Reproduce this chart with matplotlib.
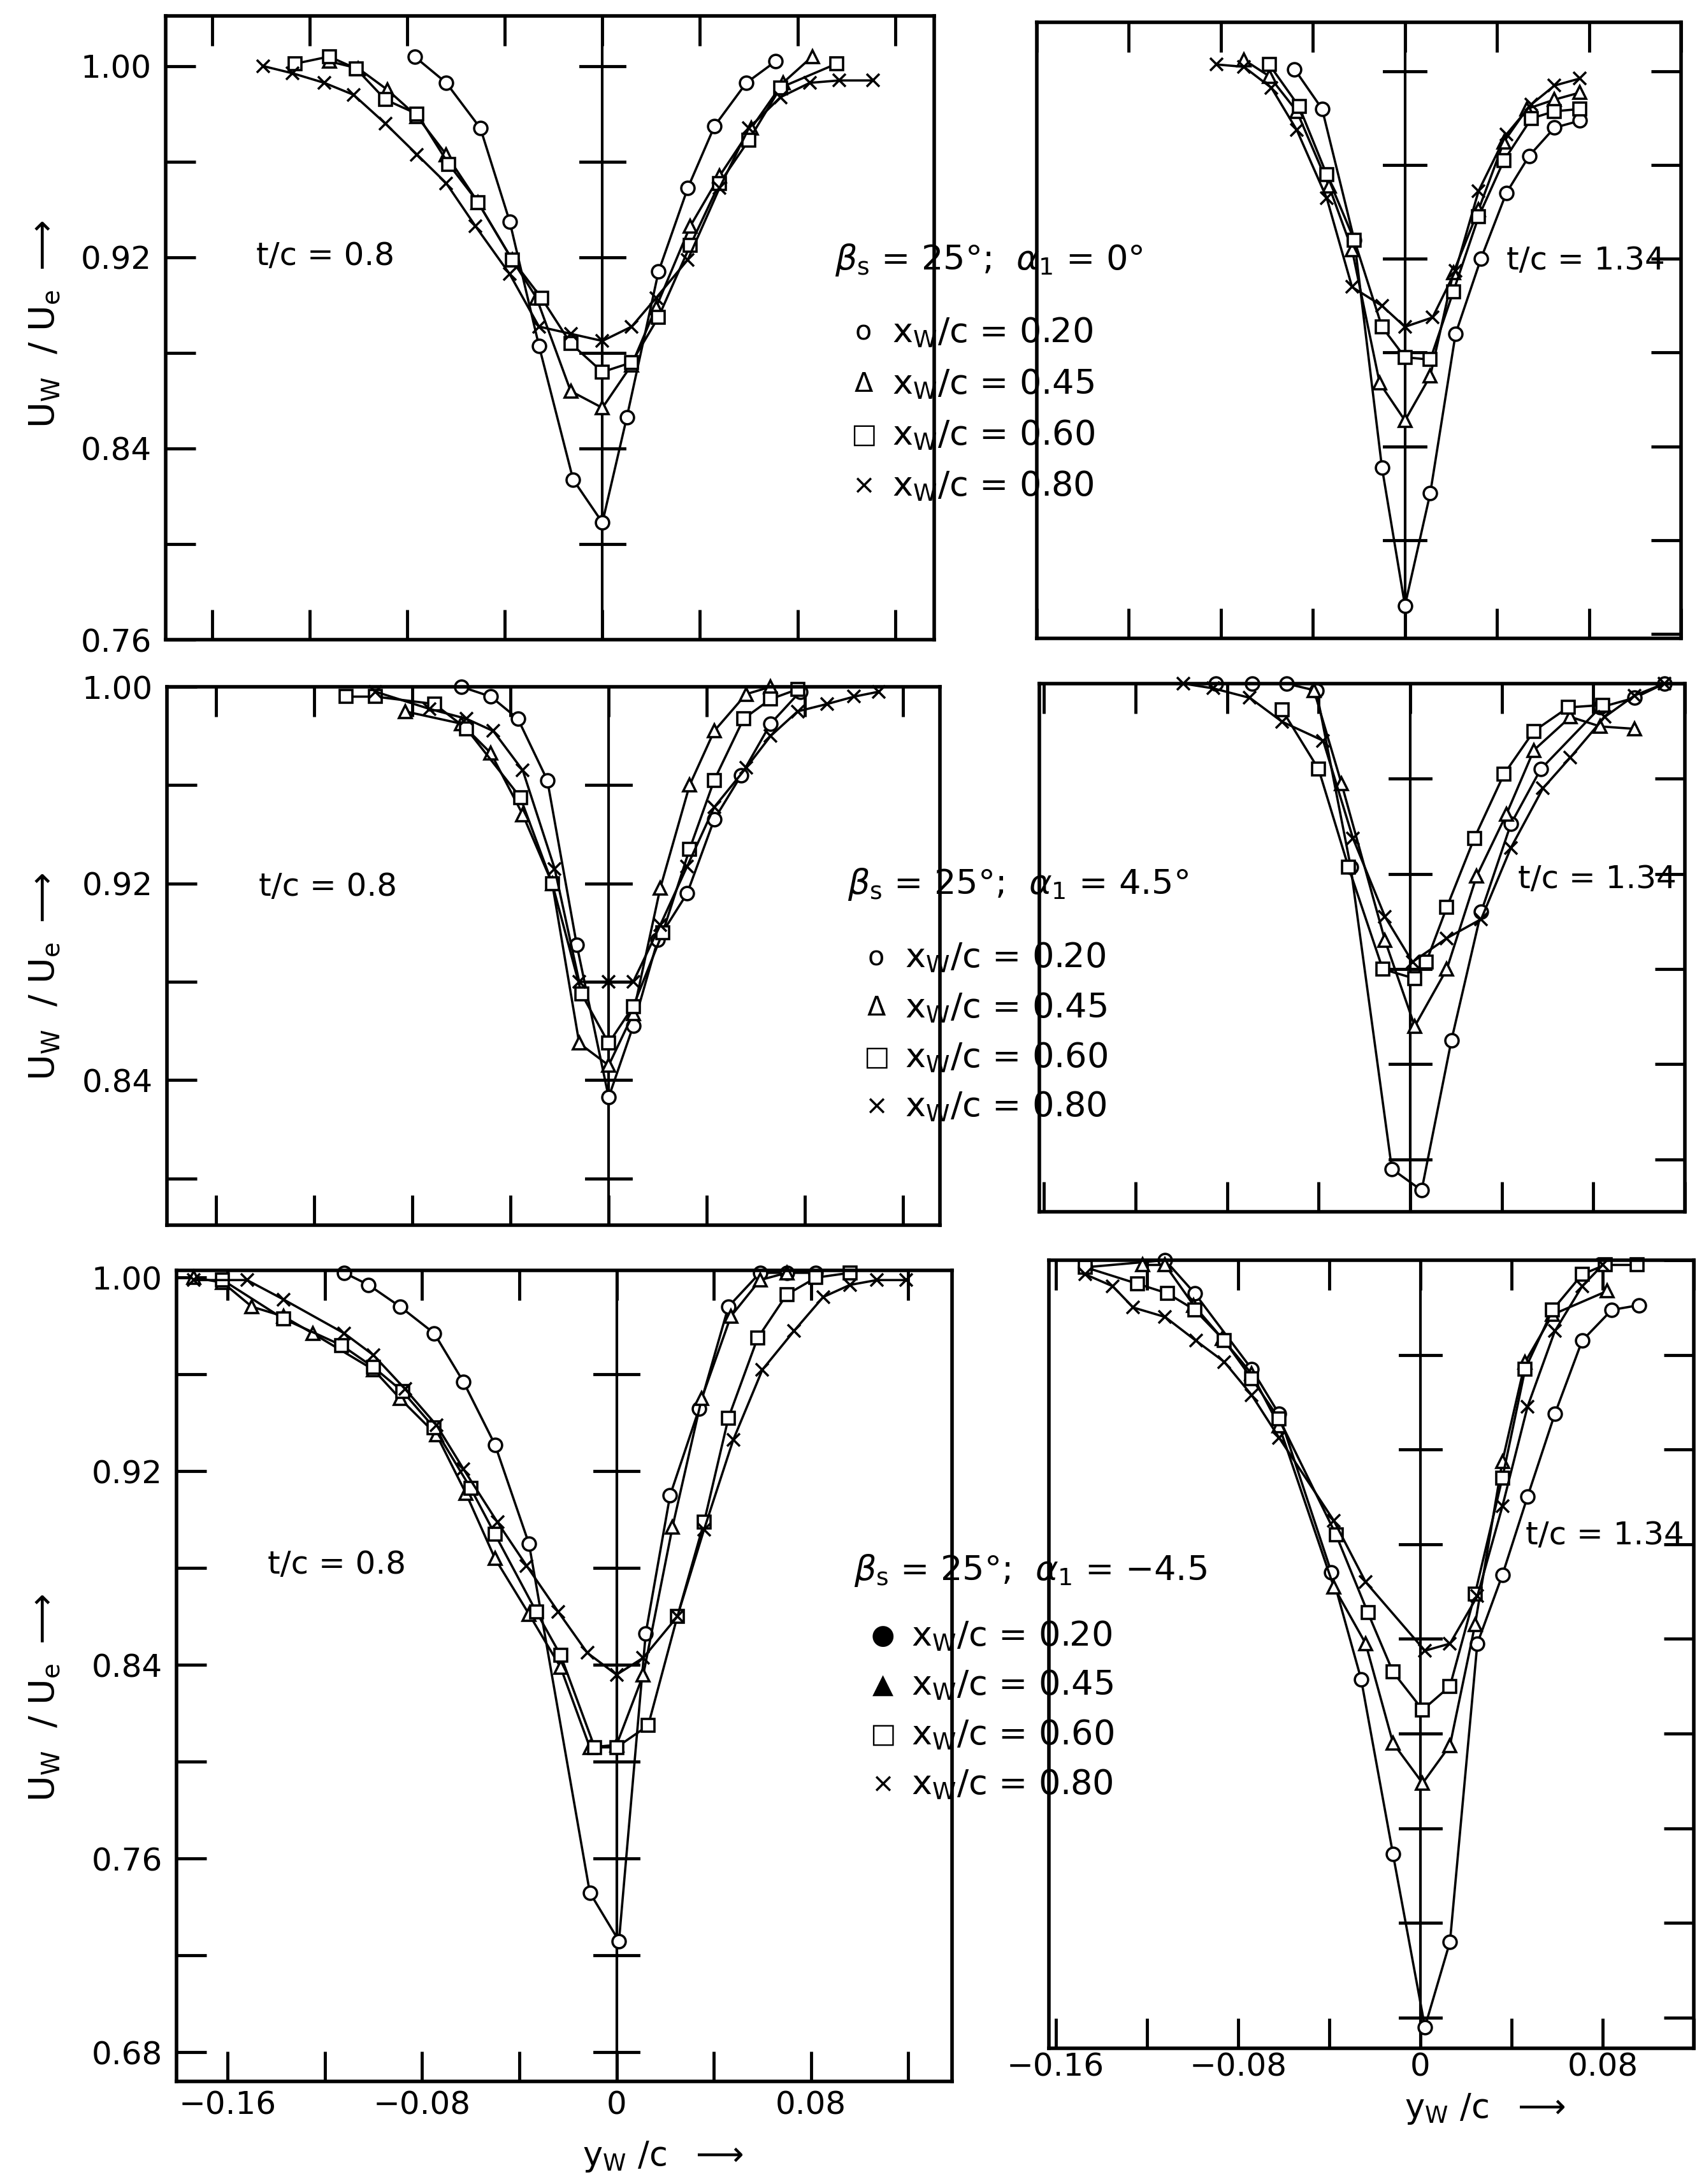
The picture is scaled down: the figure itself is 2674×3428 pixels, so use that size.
import numpy as np
import matplotlib.pyplot as plt

plt.rcParams['font.family'] = ['DejaVu Sans']
plt.rcParams['mathtext.fontset'] = 'dejavusans'

W, H = 2674, 3428

# ---- panel 1 : t/c = 0.8, alpha1 = 0 ----
p1_o_x = [-0.077, -0.064, -0.050, -0.038, -0.026, -0.012, 0.0, 0.010, 0.023, 0.035, 0.046, 0.059, 0.071]
p1_o_y = [1.004, 0.993, 0.974, 0.935, 0.883, 0.827, 0.809, 0.853, 0.914, 0.949, 0.975, 0.993, 1.002]
p1_t_x = [-0.112, -0.100, -0.088, -0.076, -0.064, -0.051, -0.037, -0.027, -0.013, 0.0, 0.012, 0.022, 0.036, 0.048, 0.061, 0.074, 0.086]
p1_t_y = [1.002, 0.999, 0.990, 0.979, 0.963, 0.943, 0.919, 0.903, 0.864, 0.857, 0.875, 0.899, 0.933, 0.954, 0.974, 0.993, 1.004]
p1_s_x = [-0.126, -0.112, -0.101, -0.089, -0.076, -0.063, -0.051, -0.037, -0.025, -0.013, 0.0, 0.012, 0.023, 0.036, 0.048, 0.060, 0.073, 0.096]
p1_s_y = [1.001, 1.004, 0.999, 0.986, 0.980, 0.959, 0.943, 0.919, 0.903, 0.884, 0.872, 0.876, 0.895, 0.925, 0.951, 0.969, 0.991, 1.001]
p1_x_x = [-0.139, -0.127, -0.114, -0.102, -0.089, -0.076, -0.064, -0.052, -0.038, -0.026, -0.013, 0.0, 0.012, 0.022, 0.035, 0.048, 0.060, 0.073, 0.085, 0.097, 0.111]
p1_x_y = [1.000, 0.997, 0.993, 0.988, 0.976, 0.963, 0.951, 0.933, 0.913, 0.891, 0.888, 0.885, 0.891, 0.903, 0.919, 0.949, 0.974, 0.987, 0.993, 0.994, 0.994]

# ---- panel 2 : t/c = 1.34, alpha1 = 0 ----
p2_o_x = [-0.048, -0.036, -0.022, -0.010, 0.0, 0.011, 0.022, 0.033, 0.044, 0.054, 0.065, 0.076]
p2_o_y = [1.001, 0.984, 0.928, 0.831, 0.772, 0.820, 0.888, 0.920, 0.948, 0.964, 0.976, 0.979]
p2_t_x = [-0.070, -0.059, -0.047, -0.033, -0.023, -0.011, 0.0, 0.011, 0.021, 0.032, 0.043, 0.053, 0.065, 0.076]
p2_t_y = [1.005, 0.998, 0.983, 0.951, 0.924, 0.867, 0.851, 0.870, 0.914, 0.941, 0.970, 0.984, 0.988, 0.991]
p2_s_x = [-0.059, -0.046, -0.034, -0.022, -0.010, 0.0, 0.011, 0.021, 0.032, 0.043, 0.055, 0.065, 0.076]
p2_s_y = [1.003, 0.985, 0.956, 0.928, 0.891, 0.878, 0.877, 0.906, 0.938, 0.962, 0.980, 0.983, 0.984]
p2_x_x = [-0.082, -0.070, -0.058, -0.047, -0.034, -0.023, -0.010, 0.0, 0.012, 0.022, 0.032, 0.044, 0.055, 0.065, 0.076]
p2_x_y = [1.003, 1.002, 0.993, 0.975, 0.946, 0.908, 0.900, 0.891, 0.895, 0.915, 0.949, 0.973, 0.986, 0.994, 0.997]

# ---- panel 3 : t/c = 0.8, alpha1 = 4.5 ----
p3_o_x = [-0.060, -0.048, -0.037, -0.025, -0.013, 0.0, 0.010, 0.020, 0.032, 0.043, 0.054, 0.066, 0.078]
p3_o_y = [1.000, 0.996, 0.987, 0.962, 0.895, 0.833, 0.862, 0.897, 0.916, 0.946, 0.964, 0.985, 0.998]
p3_t_x = [-0.083, -0.060, -0.048, -0.035, -0.023, -0.012, 0.0, 0.010, 0.021, 0.033, 0.043, 0.056, 0.066]
p3_t_y = [0.990, 0.985, 0.973, 0.948, 0.920, 0.855, 0.846, 0.867, 0.918, 0.960, 0.982, 0.997, 1.000]
p3_s_x = [-0.107, -0.095, -0.071, -0.058, -0.036, -0.023, -0.011, 0.0, 0.010, 0.022, 0.033, 0.043, 0.055, 0.066, 0.077]
p3_s_y = [0.996, 0.996, 0.993, 0.983, 0.955, 0.920, 0.875, 0.855, 0.870, 0.900, 0.934, 0.962, 0.987, 0.995, 0.999]
p3_x_x = [-0.095, -0.073, -0.058, -0.047, -0.035, -0.022, -0.012, 0.0, 0.010, 0.021, 0.032, 0.043, 0.056, 0.066, 0.077, 0.089, 0.100, 0.110]
p3_x_y = [0.998, 0.991, 0.987, 0.982, 0.966, 0.926, 0.880, 0.880, 0.880, 0.903, 0.927, 0.951, 0.967, 0.980, 0.990, 0.993, 0.996, 0.998]

# ---- panel 4 : t/c = 1.34, alpha1 = 4.5 ----
p4_o_x = [-0.085, -0.069, -0.054, -0.041, -0.026, -0.008, 0.005, 0.018, 0.031, 0.044, 0.057, 0.083, 0.098, 0.111]
p4_o_y = [1.000, 1.000, 1.000, 0.997, 0.923, 0.796, 0.787, 0.850, 0.904, 0.941, 0.964, 0.990, 0.994, 1.000]
p4_t_x = [-0.042, -0.030, -0.011, 0.002, 0.016, 0.029, 0.042, 0.054, 0.070, 0.083, 0.098]
p4_t_y = [0.997, 0.958, 0.892, 0.856, 0.880, 0.919, 0.945, 0.972, 0.986, 0.982, 0.981]
p4_s_x = [-0.056, -0.040, -0.027, -0.012, 0.002, 0.007, 0.016, 0.028, 0.041, 0.054, 0.069, 0.084]
p4_s_y = [0.989, 0.964, 0.923, 0.880, 0.876, 0.883, 0.906, 0.935, 0.962, 0.980, 0.990, 0.991]
p4_x_x = [-0.099, -0.086, -0.070, -0.056, -0.038, -0.025, -0.011, 0.001, 0.016, 0.031, 0.044, 0.058, 0.070, 0.085, 0.098, 0.111]
p4_x_y = [1.000, 0.998, 0.994, 0.984, 0.976, 0.935, 0.902, 0.883, 0.893, 0.901, 0.931, 0.956, 0.969, 0.986, 0.995, 1.000]

# ---- panel 5 : t/c = 0.8, alpha1 = -4.5 ----
p5_o_x = [-0.112, -0.102, -0.089, -0.075, -0.063, -0.050, -0.036, -0.011, 0.001, 0.012, 0.022, 0.034, 0.046, 0.059, 0.070, 0.082]
p5_o_y = [1.002, 0.997, 0.988, 0.977, 0.957, 0.931, 0.890, 0.746, 0.726, 0.853, 0.910, 0.946, 0.988, 1.002, 1.002, 1.002]
p5_t_x = [-0.174, -0.162, -0.150, -0.137, -0.125, -0.100, -0.089, -0.074, -0.062, -0.050, -0.036, -0.023, -0.011, 0.0, 0.011, 0.023, 0.035, 0.047, 0.059, 0.070]
p5_t_y = [1.000, 0.998, 0.988, 0.984, 0.977, 0.962, 0.950, 0.935, 0.911, 0.884, 0.861, 0.839, 0.806, 0.807, 0.836, 0.897, 0.950, 0.984, 0.999, 1.002]
p5_s_x = [-0.162, -0.137, -0.113, -0.100, -0.088, -0.075, -0.060, -0.050, -0.033, -0.023, -0.009, 0.0, 0.013, 0.025, 0.036, 0.046, 0.058, 0.070, 0.082, 0.096]
p5_s_y = [0.999, 0.983, 0.972, 0.963, 0.953, 0.938, 0.913, 0.894, 0.862, 0.844, 0.806, 0.806, 0.815, 0.860, 0.899, 0.942, 0.975, 0.993, 1.000, 1.002]
p5_x_x = [-0.174, -0.152, -0.137, -0.112, -0.100, -0.087, -0.074, -0.063, -0.049, -0.037, -0.024, -0.012, 0.0, 0.011, 0.025, 0.036, 0.048, 0.060, 0.073, 0.085, 0.096, 0.107, 0.119]
p5_x_y = [0.999, 0.999, 0.991, 0.977, 0.968, 0.954, 0.939, 0.921, 0.899, 0.881, 0.862, 0.845, 0.836, 0.843, 0.860, 0.896, 0.933, 0.962, 0.978, 0.992, 0.997, 0.999, 0.999]

# ---- panel 6 : t/c = 1.34, alpha1 = -4.5 ----
p6_o_x = [-0.147, -0.112, -0.099, -0.074, -0.062, -0.039, -0.026, -0.012, 0.002, 0.013, 0.025, 0.036, 0.047, 0.059, 0.071, 0.084, 0.096]
p6_o_y = [0.997, 1.000, 0.986, 0.954, 0.935, 0.868, 0.823, 0.749, 0.676, 0.712, 0.838, 0.867, 0.900, 0.935, 0.966, 0.979, 0.981]
p6_t_x = [-0.122, -0.112, -0.0995, -0.087, -0.074, -0.062, -0.038, -0.024, -0.012, 0.001, 0.013, 0.024, 0.036, 0.046, 0.058, 0.082]
p6_t_y = [0.998, 0.998, 0.981, 0.967, 0.952, 0.930, 0.862, 0.838, 0.796, 0.779, 0.795, 0.846, 0.915, 0.957, 0.977, 0.987]
p6_s_x = [-0.147, -0.124, -0.111, -0.099, -0.086, -0.074, -0.062, -0.037, -0.023, -0.012, 0.001, 0.013, 0.024, 0.036, 0.046, 0.058, 0.071, 0.081, 0.095]
p6_s_y = [0.997, 0.990, 0.986, 0.979, 0.966, 0.950, 0.933, 0.884, 0.851, 0.826, 0.810, 0.820, 0.859, 0.908, 0.954, 0.979, 0.994, 0.998, 0.998]
p6_x_x = [-0.147, -0.135, -0.126, -0.112, -0.0985, -0.086, -0.074, -0.062, -0.038, -0.024, 0.002, 0.013, 0.025, 0.036, 0.047, 0.059, 0.071, 0.080]
p6_x_y = [0.994, 0.989, 0.980, 0.976, 0.966, 0.957, 0.943, 0.925, 0.890, 0.864, 0.835, 0.838, 0.858, 0.896, 0.938, 0.970, 0.989, 0.998]

xw_values = [0.20, 0.45, 0.60, 0.80]
alpha_labels = ['0°', '4.5°', '\u22124.5']
tc_labels = ['t/c = 0.8', 't/c = 1.34']

fig = plt.figure(figsize=(W / 100, H / 100), dpi=100)

FS = 36


def add_panel(box, xlim, ylim, ytick_lo, left_side, bottom_row, xpad=14):
    l, t, r, b = box
    ax = fig.add_axes([l / W, 1 - b / H, (r - l) / W, (b - t) / H])
    ax.set_xlim(xlim)
    ax.set_ylim(ylim)
    for s in ax.spines.values():
        s.set_linewidth(4)
    xt = np.arange(-0.16, 0.121, 0.04)
    yt = np.arange(ytick_lo, 1.0001, 0.04)
    ax.set_xticks(xt)
    ax.set_yticks(yt)
    ylabs = []
    for v in yt:
        k = (1.0 - v) / 0.08
        ylabs.append(f'{v:.2f}' if abs(k - round(k)) < 1e-6 else '')
    ax.set_yticklabels(ylabs)
    xlabs = []
    for v in xt:
        k = v / 0.08
        if abs(k - round(k)) < 1e-6:
            xlabs.append('0' if abs(v) < 1e-9 else f'{v:.2f}'.replace('-', '\u2212'))
        else:
            xlabs.append('')
    ax.set_xticklabels(xlabs)
    ax.tick_params(axis='x', direction='in', length=34, width=3.5, top=True, bottom=True,
                   labelbottom=bottom_row, labelsize=FS, pad=xpad)
    ax.tick_params(axis='y', direction='in', length=34, width=3.5,
                   left=left_side, right=not left_side, labelleft=left_side,
                   labelsize=FS, pad=16)
    # centre line with cross ticks
    ax.axvline(0, color='k', lw=3)
    for v in yt:
        if ylim[0] + 0.005 < v < ylim[1] - 0.005:
            ax.plot([-0.009, 0.009], [v, v], color='k', lw=3.5)
    return ax


def draw(ax, xs, ys, marker):
    ax.plot(xs, ys, color='k', lw=2.6, marker=marker, ms=15, mfc='white',
            mec='k', mew=2.6, clip_on=False)


ax1 = add_panel((260, 25, 1466, 1004), (-0.179, 0.136), (0.76, 1.021), 0.76, True, False)
ax2 = add_panel((1627, 35, 2638, 1002), (-0.159, 0.118), (0.758, 1.021), 0.76, False, False)
ax3 = add_panel((262, 1078, 1475, 1923), (-0.180, 0.135), (0.781, 1.0), 0.80, True, False)
ax4 = add_panel((1631, 1073, 2644, 1902), (-0.162, 0.116), (0.778, 1.0), 0.80, False, False)
ax5 = add_panel((277, 1994, 1494, 3267), (-0.181, 0.138), (0.668, 1.003), 0.68, True, True, xpad=10)
ax6 = add_panel((1646, 1978, 2658, 3215), (-0.163, 0.117), (0.667, 1.0), 0.68, False, True, xpad=4)

panels = [
    (ax1, [(p1_o_x, p1_o_y), (p1_t_x, p1_t_y), (p1_s_x, p1_s_y), (p1_x_x, p1_x_y)]),
    (ax2, [(p2_o_x, p2_o_y), (p2_t_x, p2_t_y), (p2_s_x, p2_s_y), (p2_x_x, p2_x_y)]),
    (ax3, [(p3_o_x, p3_o_y), (p3_t_x, p3_t_y), (p3_s_x, p3_s_y), (p3_x_x, p3_x_y)]),
    (ax4, [(p4_o_x, p4_o_y), (p4_t_x, p4_t_y), (p4_s_x, p4_s_y), (p4_x_x, p4_x_y)]),
    (ax5, [(p5_o_x, p5_o_y), (p5_t_x, p5_t_y), (p5_s_x, p5_s_y), (p5_x_x, p5_x_y)]),
    (ax6, [(p6_o_x, p6_o_y), (p6_t_x, p6_t_y), (p6_s_x, p6_s_y), (p6_x_x, p6_x_y)]),
]
markers = ['o', '^', 's', 'x']
for ax, series in panels:
    for (xs, ys), m in zip(series, markers):
        draw(ax, xs, ys, m)


def ftext(px, py, s, **kw):
    fig.text(px / W, 1 - py / H, s, **kw)


# t/c annotations
tc_pos = [(510, 402, 0), (2488, 409, 1), (515, 1392, 0), (2506, 1380, 1), (528, 2456, 0), (2518, 2410, 1)]
for px, py, k in tc_pos:
    ftext(px, py, tc_labels[k], fontsize=FS, ha='center', va='center')

# middle legends
leg_rows = [
    (1310, 408, [522, 603, 683, 763], ['o', '\u0394', '\u25a1', '\u00d7']),
    (1330, 1388, [1503, 1582, 1660, 1737], ['o', '\u0394', '\u25a1', '\u00d7']),
    (1340, 2465, [2568, 2645, 2723, 2801], ['\u25cf', '\u25b2', '\u25a1', '\u00d7']),
]
LFS = 39
for i, (hx, hy, ey, syms) in enumerate(leg_rows):
    ftext(hx, hy, r'$\beta_{\rm s}$ = 25°;  $\alpha_1$ = ' + alpha_labels[i],
          fontsize=LFS, ha='left', va='center')
    for yy, sym, v in zip(ey, syms, xw_values):
        ftext(hx + 45, yy, sym, fontsize=LFS - 8, ha='center', va='center')
        ftext(hx + 90, yy, r'x$_{\rm W}$/c = ' + f'{v:.2f}', fontsize=LFS, ha='left', va='center')

# y axis labels
for yc in [509, 1533, 2665]:
    ftext(70, yc, r'U$_{\rm W}$  / U$_{\rm e}$ $\longrightarrow$', fontsize=FS + 4,
          rotation=90, ha='center', va='center')

# x axis labels
ftext(1040, 3385, r'y$_{\rm W}$ /c  $\longrightarrow$', fontsize=FS + 2, ha='center', va='center')
ftext(2330, 3310, r'y$_{\rm W}$ /c  $\longrightarrow$', fontsize=FS + 2, ha='center', va='center')

fig.savefig('out.png', dpi=100, facecolor='white')
